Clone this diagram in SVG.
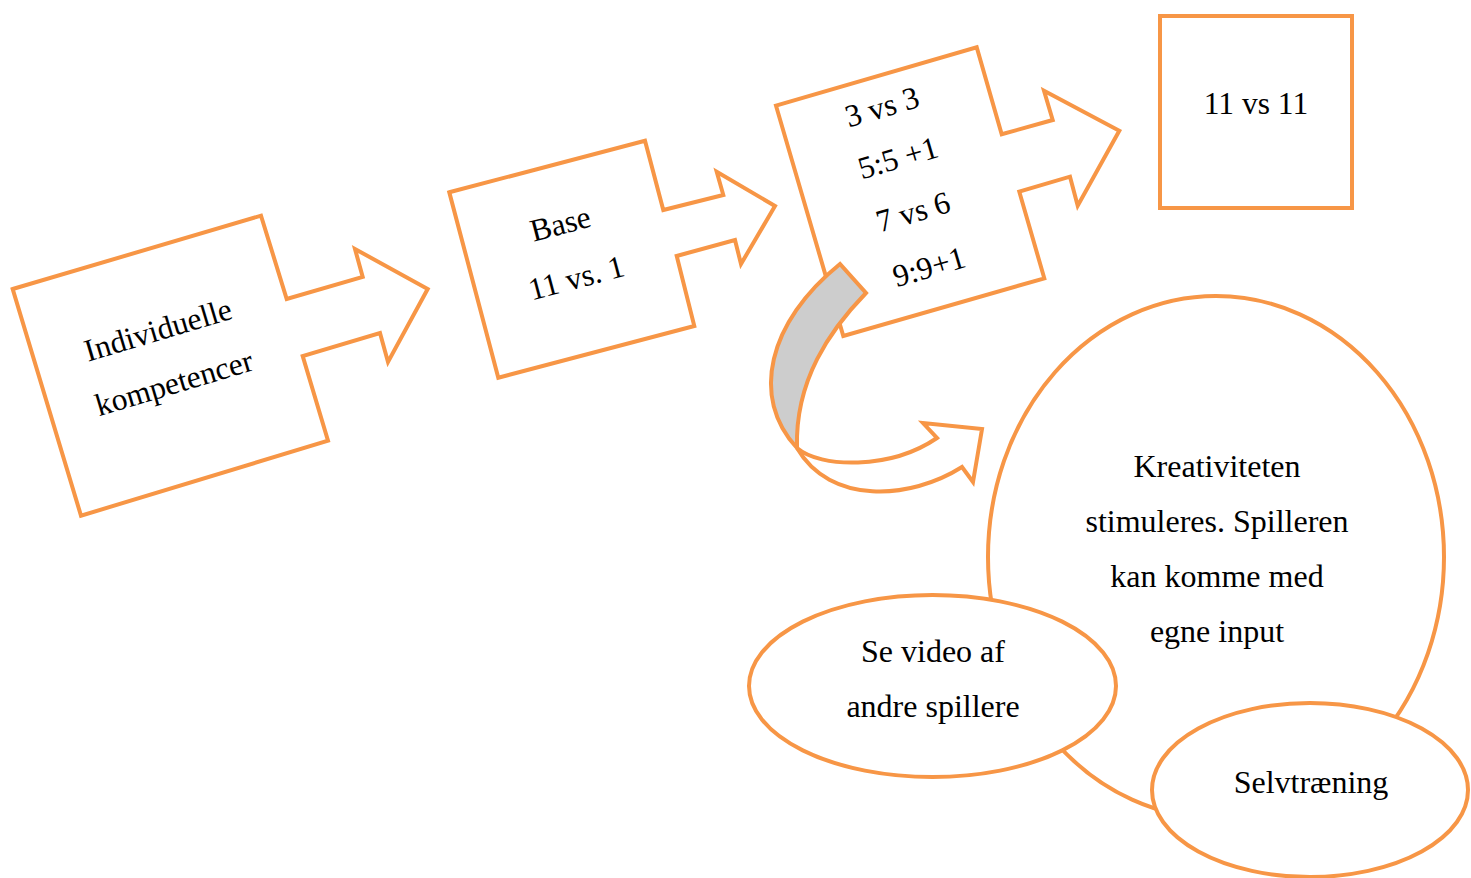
<svg xmlns="http://www.w3.org/2000/svg" width="1471" height="878" viewBox="0 0 1471 878">
<style>
.s{fill:#ffffff;stroke:#F79646;stroke-width:4;stroke-linejoin:miter}
.g{fill:#CDCDCD;stroke:#F79646;stroke-width:4;stroke-linejoin:miter}
.t{font-family:"Liberation Serif","Times New Roman",serif;font-size:31.5px;fill:#000000;text-anchor:middle}
.e{font-family:"Liberation Serif","Times New Roman",serif;font-size:32px;fill:#000000;text-anchor:middle}
</style>
<rect width="1471" height="878" fill="#ffffff"/>
<g id="arrow1">
<polygon class="s" points="12.7,289 261,215.7 286.7,299 362.7,277 355,249 427.7,289 388,362 380,333 302.7,356 328,440.7 81,515.7"/>
<text class="t" x="161" y="340" transform="rotate(-16.6 161 340)">Individuelle</text>
<text class="t" x="177" y="393" transform="rotate(-16.6 177 393)">kompetencer</text>
</g>
<g id="arrow2">
<polygon class="s" points="449.3,192.3 645,140.7 663.3,210 723.3,195 716.7,171.7 775,206 741,264 735,240 676.7,256 694.3,326 498.3,377.7"/>
<text class="t" x="563" y="234" transform="rotate(-14.8 563 234)">Base</text>
<text class="t" x="579" y="288" transform="rotate(-14.8 579 288)">11 vs. 1</text>
</g>
<g id="arrow3">
<polygon class="s" points="776,105.7 976.7,47.3 1001.7,134.3 1052.7,120 1044,90.7 1119.3,130.7 1077.7,205.7 1070,176.7 1019.3,191.7 1044.3,278.3 843.3,336"/>
<text class="t" x="885" y="117" transform="rotate(-16.3 885 117)">3 vs 3</text>
<text class="t" x="901" y="168" transform="rotate(-16.3 901 168)">5:5 +1</text>
<text class="t" x="916" y="222" transform="rotate(-16.3 916 222)">7 vs 6</text>
<text class="t" x="932" y="277" transform="rotate(-16.3 932 277)">9:9+1</text>
</g>
<g id="box11">
<rect class="s" x="1160" y="16" width="192" height="192"/>
<text class="t" x="1256" y="114">11 vs 11</text>
</g>
<g id="connectors">
<path class="g" d="M797,448 C750,398 768,322 840,264 L866,293 C830,330 795,380 797,448 Z"/>
<path class="s" d="M797,448 C820,468 890,470 937,438 L923,423 L982,429 L973,482 L962,467 C910,500 830,505 797,448 Z"/>
</g>
<g id="kreativitet">
<ellipse class="s" cx="1216" cy="557" rx="228" ry="261"/>
<text class="e" x="1217" y="477">Kreativiteten</text>
<text class="e" x="1217" y="532">stimuleres. Spilleren</text>
<text class="e" x="1217" y="587">kan komme med</text>
<text class="e" x="1217" y="642">egne input</text>
</g>
<g id="video">
<ellipse class="s" cx="932.5" cy="686" rx="183.5" ry="91"/>
<text class="e" x="933" y="662">Se video af</text>
<text class="e" x="933" y="717">andre spillere</text>
</g>
<g id="selvtraening">
<ellipse class="s" cx="1310" cy="790" rx="158" ry="87"/>
<text class="e" x="1311" y="793">Selvtræning</text>
</g>
</svg>
